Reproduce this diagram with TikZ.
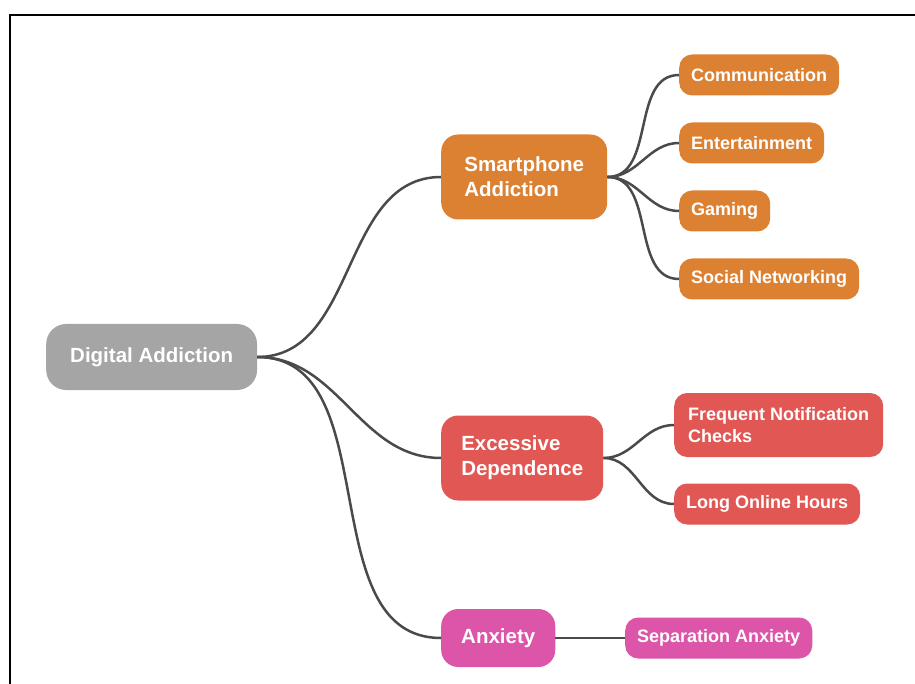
\documentclass[tikz,border=0pt]{standalone}
\usepackage{fontspec}
\setmainfont{Liberation Sans}
\usetikzlibrary{positioning}
\definecolor{rootgray}{HTML}{A5A5A5}
\definecolor{phoneorange}{HTML}{DC8132}
\definecolor{dependred}{HTML}{E05753}
\definecolor{anxpink}{HTML}{DC55A8}
\definecolor{linkgray}{HTML}{4A4A4A}
\tikzset{
    root/.style={fill=rootgray, text=white, rounded corners=20pt, anchor=west, inner xsep=24pt, minimum height=66pt, font=\bfseries\fontsize{20.5}{24}\selectfont}, % 中心主题
    topic/.style={text=white, rounded corners=17pt, anchor=west, align=left, inner xsep=20pt, font=\bfseries\fontsize{20.5}{25}\selectfont}, % 二级分支
    leaf/.style={text=white, rounded corners=13pt, anchor=west, align=left, inner xsep=12pt, minimum height=41pt, font=\bfseries\fontsize{18}{22}\selectfont}, % 叶子节点
    link/.style={draw=linkgray, line width=2.5pt, out=0, in=180} % 连线
}
\begin{document}
\begin{tikzpicture}[x=1pt, y=-1pt]
    \useasboundingbox (0,0) rectangle (915,684);
    \draw[line width=2pt] (10,684) -- (10,15) -- (915,15);

    \node[root] (digital) at (46,357) {Digital Addiction};

    \node[topic, fill=phoneorange, minimum width=166pt, minimum height=85pt] (phone) at (441,177) {Smartphone\\Addiction};
    \node[topic, fill=dependred, minimum width=162pt, minimum height=85pt] (depend) at (441,458) {Excessive\\Dependence};
    \node[topic, fill=anxpink, minimum width=112pt, minimum height=58pt] (anxiety) at (441,638) {Anxiety};

    \foreach \t in {phone,depend,anxiety} {\draw[link] (digital.east) to (\t.west);}

    \foreach \nm/\txt/\y in {comm/Communication/75, fun/Entertainment/143, game/Gaming/211, social/Social Networking/279} {
        \node[leaf, fill=phoneorange] (\nm) at (679,\y) {\txt};
        \draw[link] (phone.east) to (\nm.west);
    }

    \node[leaf, fill=dependred, minimum height=64pt, inner xsep=14pt] (notify) at (674,425) {Frequent Notification\\Checks};
    \node[leaf, fill=dependred] (hours) at (674,504) {Long Online Hours};
    \draw[link] (depend.east) to (notify.west);
    \draw[link] (depend.east) to (hours.west);

    \node[leaf, fill=anxpink] (separation) at (625,638) {Separation Anxiety};
    \draw[link] (anxiety.east) -- (separation.west);
\end{tikzpicture}
\end{document}
